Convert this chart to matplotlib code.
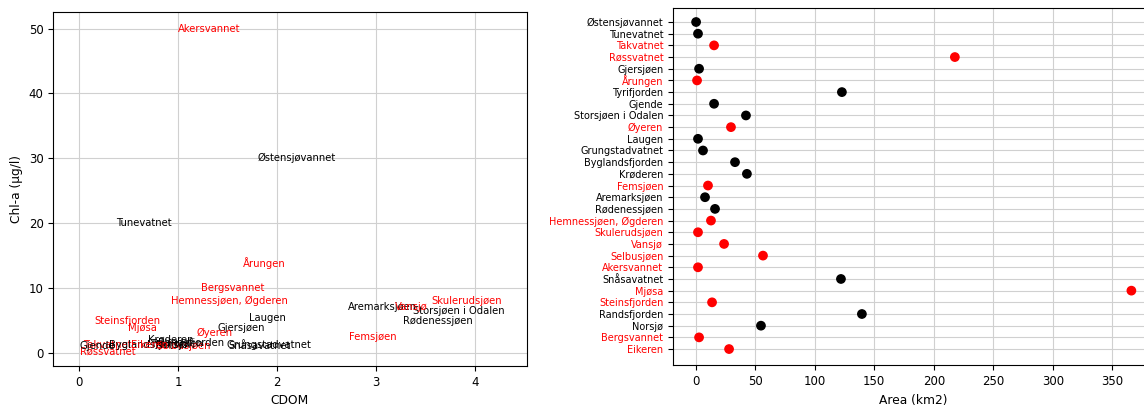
import matplotlib
matplotlib.use("Agg")
import matplotlib.pyplot as plt

# ---- data ----
lakes = ["Østensjøvannet", "Tunevatnet", "Takvatnet", "Røssvatnet", "Gjersjøen",
         "Årungen", "Tyrifjorden", "Gjende", "Storsjøen i Odalen", "Øyeren",
         "Laugen", "Grungstadvatnet", "Byglandsfjorden", "Krøderen", "Femsjøen",
         "Aremarksjøen", "Rødenessjøen", "Hemnessjøen, Øgderen", "Skulerudsjøen",
         "Vansjø", "Selbusjøen", "Akersvannet", "Snåsavatnet", "Mjøsa",
         "Steinsfjorden", "Randsfjorden", "Norsjø", "Bergsvannet", "Eikeren"]
area = [0.3, 1.9, 15.4, 217.7, 2.8,
        1.1, 122.8, 15.4, 42.2, 29.6,
        1.9, 6.1, 33.0, 43.0, 10.3,
        7.8, 16.2, 12.8, 1.9,
        23.8, 56.5, 1.9, 122.0, 366.0,
        13.7, 139.6, 54.8, 2.8, 28.0]
cdom = [1.80, 0.37, 0.04, 0.01, 1.40,
        1.66, 0.72, 0.00, 3.37, 1.19,
        1.72, 1.49, 0.30, 0.70, 2.73,
        2.72, 3.27, 0.93, 3.56,
        3.19, 0.78, 1.00, 1.51, 0.49,
        0.15, 0.80, 0.78, 1.23, 0.52]
chla = [30.0, 20.0, 1.2, 0.2, 3.9,
        13.9, 1.3, 1.1, 6.5, 3.0,
        5.4, 1.2, 1.2, 2.1, 2.5,
        7.1, 4.9, 8.0, 8.0,
        7.1, 1.0, 50.0, 1.0, 3.9,
        4.9, 1.5, 1.2, 10.0, 1.2]
red_lakes = ["Takvatnet", "Røssvatnet", "Årungen", "Øyeren", "Femsjøen",
             "Hemnessjøen, Øgderen", "Skulerudsjøen", "Vansjø", "Selbusjøen",
             "Akersvannet", "Mjøsa", "Steinsfjorden", "Bergsvannet", "Eikeren"]
colors = ["red" if l in red_lakes else "black" for l in lakes]

W, H = 1144, 407
fig = plt.figure(figsize=(W / 100, H / 100), dpi=100)

def box(x0, y0, x1, y1):
    return [x0 / W, 1 - y1 / H, (x1 - x0) / W, (y1 - y0) / H]

grid_kw = dict(color="#d0d0d0", linewidth=0.8)

# ---- left: CDOM vs Chl-a, text labels ----
ax1 = fig.add_axes(box(53.3, 12.3, 526.5, 366))
for name, x, y, c in zip(lakes, cdom, chla, colors):
    ax1.text(x, y, name, color=c, fontsize=7.2, ha="left", va="center")
ax1.set_xlim(-0.26, 4.52)
ax1.set_ylim(-2.03, 52.5)
ax1.set_xticks([0, 1, 2, 3, 4])
ax1.set_yticks([0, 10, 20, 30, 40, 50])
ax1.grid(True, **grid_kw)
ax1.set_axisbelow(True)
ax1.tick_params(labelsize=8.5)
ax1.set_xlabel("CDOM", fontsize=8.8)
ax1.set_ylabel("Chl-a (µg/l)", fontsize=8.8)

# ---- right: area dot plot ----
ax2 = fig.add_axes(box(673, 8, 1154, 365.4))
ypos = list(range(len(lakes)))
ax2.scatter(area, ypos, c=colors, s=36, zorder=3)
ax2.set_yticks(ypos)
ax2.set_yticklabels(lakes, fontsize=7)
for lbl, c in zip(ax2.get_yticklabels(), colors):
    lbl.set_color(c)
ax2.set_ylim(len(lakes) - 1 + 1.4, -1.2)
ax2.set_xlim(-19.1, 385)
ax2.set_xticks([0, 50, 100, 150, 200, 250, 300, 350])
ax2.grid(True, **grid_kw)
ax2.set_axisbelow(True)
ax2.tick_params(axis="x", labelsize=8.5)
ax2.set_xlabel("Area (km2)", fontsize=8.8)

fig.savefig("out.png", dpi=100)
